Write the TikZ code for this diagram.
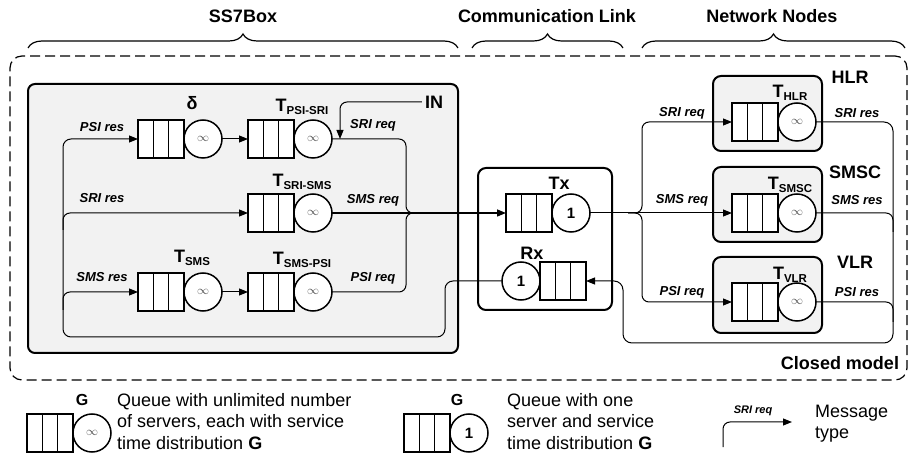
\documentclass[tikz,border=0pt]{standalone}
\usepackage{fontspec}
\setmainfont{Liberation Sans}
\usetikzlibrary{arrows.meta,calc,decorations.pathreplacing}
\definecolor{boxgray}{RGB}{242,242,242}
\newcommand\Tsub[1]{T\raisebox{-2.5pt}{\fontsize{11.5}{12}\selectfont #1}}
\newcommand\infsym{\textcolor{black!70}{\fontsize{13}{13}\selectfont$\infty$}}
\newcommand\mkq[4]{%
  \node[qbox, anchor=west] (#1) at (#2,#3) {};
  \node[srv, anchor=west] (#1s) at (#1.east) {#4};}
\begin{document}
\begin{tikzpicture}[x=1pt,y=-1pt,
  lbl/.style={font=\fontsize{18}{20}\selectfont\bfseries, inner sep=0pt},
  msg/.style={font=\fontsize{13}{15}\selectfont\bfseries\itshape, inner sep=0pt},
  legtext/.style={font=\fontsize{18}{21.5}\selectfont, align=left, inner sep=0pt, anchor=north west},
  qbox/.style={draw, line width=1.5pt, fill=white, minimum width=46pt, minimum height=38pt,
    inner sep=0pt, outer sep=0pt,
    path picture={
      \draw[line width=1.5pt]
      ($(path picture bounding box.south west)!1/3!(path picture bounding box.south east)$) --
      ($(path picture bounding box.north west)!1/3!(path picture bounding box.north east)$)
      ($(path picture bounding box.south west)!2/3!(path picture bounding box.south east)$) --
      ($(path picture bounding box.north west)!2/3!(path picture bounding box.north east)$);}},
  srv/.style={draw, circle, line width=1.5pt, fill=white, minimum size=38pt, inner sep=0pt,
    outer sep=0pt, font=\fontsize{15}{15}\selectfont\bfseries},
  frame/.style={draw, line width=2pt, rounded corners=8pt, inner sep=0pt},
  conn/.style={line width=1pt},
  arr/.style={-{Triangle[length=9pt,width=7pt]}},
  brc/.style={decorate, decoration={brace, amplitude=14pt}, line width=1.2pt}
]
\useasboundingbox (0,0) rectangle (911,454);

% outer frame and group frames
\node[draw, dash pattern=on 10pt off 5pt, line width=1.2pt, rounded corners=12pt,
  minimum width=897pt, minimum height=324pt, inner sep=0pt] (outer) at (458.5,218) {};
\node[frame, fill=boxgray, minimum width=430pt, minimum height=269pt, rounded corners=7pt] (ss7) at (243,218.5) {};
\node[frame, fill=white, minimum width=134pt, minimum height=142pt] (comm) at (545,239) {};
\node[frame, fill=boxgray, minimum width=109pt, minimum height=75pt] (hlrbox) at (767.5,113.5) {};
\node[frame, fill=boxgray, minimum width=109pt, minimum height=75pt] (smscbox) at (767.5,204.5) {};
\node[frame, fill=boxgray, minimum width=109pt, minimum height=76pt] (vlrbox) at (767.5,295) {};

% braces and titles
\coordinate (b1a) at (28,48);  \coordinate (b1b) at (458,48);
\coordinate (b2a) at (472,48); \coordinate (b2b) at (623,48);
\coordinate (b3a) at (642,48); \coordinate (b3b) at (905,48);
\draw[brc] (b1a) -- (b1b);
\draw[brc] (b2a) -- (b2b);
\draw[brc] (b3a) -- (b3b);
\node[lbl] (t1) at (243,16) {SS7Box};
\node[lbl] (t2) at (547,16) {Communication Link};
\node[lbl] (t3) at (772,16) {Network Nodes};

% queues
\mkq{d}{138}{139}{\infsym}
\mkq{psisri}{248}{139}{\infsym}
\mkq{srisms}{248}{213}{\infsym}
\mkq{sms}{138}{292}{\infsym}
\mkq{smspsi}{248}{292}{\infsym}
\mkq{tx}{506}{213}{1}
\node[qbox, anchor=west] (rx) at (540,281) {};
\node[srv, anchor=east] (rxs) at (rx.west) {1};
\mkq{hlr}{732}{122}{\infsym}
\mkq{smsc}{732}{213}{\infsym}
\mkq{vlr}{732}{302}{\infsym}

% queue labels
\node[lbl] (ld) at (192,103) {δ};
\node[lbl] (lpsisri) at (302,107) {\Tsub{PSI-SRI}};
\node[lbl] (lsrisms) at (302,182) {\Tsub{SRI-SMS}};
\node[lbl] (lsms) at (192,258) {\Tsub{SMS}};
\node[lbl] (lsmspsi) at (302,260) {\Tsub{SMS-PSI}};
\node[lbl] (ltx) at (559,183) {Tx};
\node[lbl] (lrx) at (532,253) {Rx};
\node[lbl] (lhlr) at (790,93) {\Tsub{HLR}};
\node[lbl] (lsmsc) at (790,185) {\Tsub{SMSC}};
\node[lbl] (lvlr) at (790,275) {\Tsub{VLR}};
\node[lbl] (nhlr) at (850,77) {HLR};
\node[lbl] (nsmsc) at (855,172) {SMSC};
\node[lbl] (nvlr) at (855,262) {VLR};
\node[lbl] (closed) at (840,363) {Closed model};
\node[lbl] (in) at (434,102) {IN};

% connectors inside SS7Box
\draw[conn, arr, rounded corners=8pt] (rxs.west) -| (445,337) -| (63,139) -- (d.west);
\draw[conn, arr, rounded corners=7pt] (63,230) |- (srisms.west);
\draw[conn, arr, rounded corners=7pt] (63,310) |- (sms.west);
\draw[conn, arr] (ds.east) -- (psisri.west);
\draw[conn, arr] (smss.east) -- (smspsi.west);
\draw[conn, arr, rounded corners=7pt] ([xshift=-3pt]in.west) -| (340,139);
\draw[conn, rounded corners=7pt] (psisris.east) -| (406,213) -- (414,213);
\draw[conn, rounded corners=7pt] (smspsis.east) -| (406,213) -- (414,213);
\draw[conn, arr, line width=1.4pt] (srismss.east) -- (tx.west);

% connectors to network nodes
\draw[conn, arr] (txs.east) -- (smsc.west);
\draw[conn, arr, rounded corners=7pt] (628,213) -| (642,122) -- (hlr.west);
\draw[conn, arr, rounded corners=7pt] (628,213) -| (642,302) -- (vlr.west);
\draw[conn, arr, rounded corners=9pt] (hlrs.east) -| (893,343) -| (623,281) -- (rx.east);
\draw[conn, rounded corners=7pt] (smscs.east) -| (893,232);
\draw[conn, rounded corners=7pt] (vlrs.east) -| (893,322);

% message labels
\node[msg] (m1) at (102,127) {PSI res};
\node[msg] (m2) at (102,198) {SRI res};
\node[msg] (m3) at (102,277) {SMS res};
\node[msg] (m4) at (373,125) {SRI req};
\node[msg] (m5) at (373,200) {SMS req};
\node[msg] (m6) at (373,278) {PSI req};
\node[msg] (m7) at (682,113) {SRI req};
\node[msg] (m8) at (682,200) {SMS req};
\node[msg] (m9) at (682,292) {PSI req};
\node[msg] (m10) at (857,113) {SRI res};
\node[msg] (m11) at (857,200) {SMS res};
\node[msg] (m12) at (857,292) {PSI res};

% legend
\mkq{lg1}{27}{433}{\infsym}
\node[font=\fontsize{16}{18}\selectfont\bfseries, inner sep=0pt] (g1) at (82,400) {G};
\node[legtext] (lt1) at (117,393) {Queue with unlimited number\\of servers, each with service\\time distribution \textbf{G}};
\mkq{lg2}{404}{433}{1}
\node[font=\fontsize{16}{18}\selectfont\bfseries, inner sep=0pt] (g2) at (457,400) {G};
\node[legtext] (lt2) at (507,393) {Queue with one\\server and service\\time distribution \textbf{G}};
\coordinate (la) at (723,447);
\coordinate (lb) at (792,422);
\draw[conn, arr, rounded corners=7pt] (la) |- (lb);
\node[font=\fontsize{11}{12}\selectfont\bfseries\itshape, inner sep=0pt] (lm) at (753,411) {SRI req};
\node[legtext, font=\fontsize{18}{21}\selectfont] (lt3) at (815,405) {Message\\type};
\end{tikzpicture}
\end{document}
